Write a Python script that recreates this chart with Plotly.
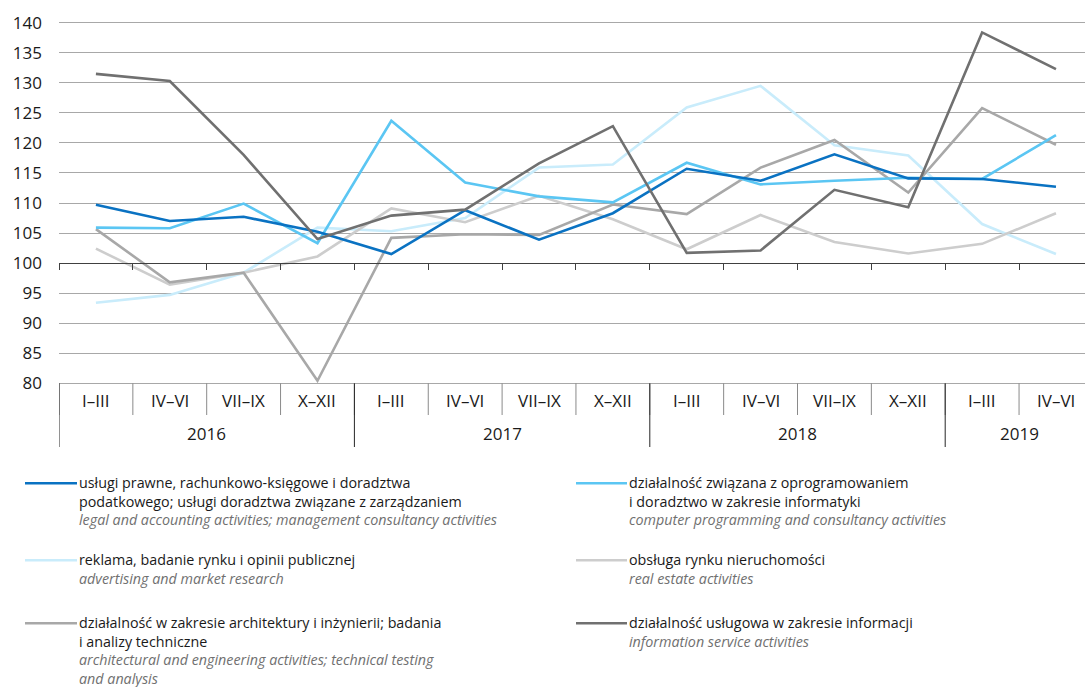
import plotly.graph_objects as go

quarters = ["I–III", "IV–VI", "VII–IX", "X–XII",
            "I–III", "IV–VI", "VII–IX", "X–XII",
            "I–III", "IV–VI", "VII–IX", "X–XII",
            "I–III", "IV–VI"]
years = ["2016", "2017", "2018", "2019"]
year_spans = [4, 4, 4, 2]

legal = [109.7, 107.0, 107.7, 105.2, 101.5, 108.8, 103.9, 108.3, 115.7, 113.7, 118.1, 114.1, 114.0, 112.7]
computer = [105.9, 105.8, 109.9, 103.3, 123.7, 113.4, 111.1, 110.1, 116.7, 113.1, 113.7, 114.2, 114.0, 121.3]
advertising = [93.4, 94.7, 98.4, 105.9, 105.3, 107.5, 115.9, 116.4, 125.9, 129.5, 119.6, 117.9, 106.5, 101.5]
real_estate = [102.4, 96.4, 98.4, 101.1, 109.1, 106.8, 111.2, 107.3, 102.3, 108.0, 103.5, 101.6, 103.2, 108.3]
architecture = [105.65, 96.8, 98.4, 80.4, 104.2, 104.8, 104.7, 109.75, 108.15, 115.9, 120.5, 111.75, 125.8, 119.7]
information = [131.5, 130.3, 118.0, 104.0, 107.9, 108.9, 116.6, 122.8, 101.7, 102.1, 112.2, 109.3, 138.4, 132.3]

series = [
    ("advertising", advertising, "#C9ECFB",
     "reklama, badanie rynku i opinii publicznej",
     "advertising and market research"),
    ("real_estate", real_estate, "#CDCDCD",
     "obsługa rynku nieruchomości",
     "real estate activities"),
    ("architecture", architecture, "#A8A8A8",
     "działalność w zakresie architektury i inżynierii; badania<br>i analizy techniczne",
     "architectural and engineering activities; technical testing<br>and analysis"),
    ("computer", computer, "#5BC6F3",
     "działalność związana z oprogramowaniem<br>i doradztwo w zakresie informatyki",
     "computer programming and consultancy activities"),
    ("legal", legal, "#0A72C2",
     "usługi prawne, rachunkowo-księgowe i doradztwa<br>podatkowego; usługi doradztwa związane z zarządzaniem",
     "legal and accounting activities; management consultancy activities"),
    ("information", information, "#707070",
     "działalność usługowa w zakresie informacji",
     "information service activities"),
]

W, H = 1085, 687
ML, MR, MT, MB = 59, 0, 21, 302
PW = W - ML - MR
PH = H - MT - MB
YMIN, YMAX = 79.7, 140.3
CAT_W = 73.85
XMIN = -0.5
XMAX = XMIN + PW / CAT_W


def px_x(px):
    return (px - ML) / PW


def px_y(py):
    return (H - MB - py) / PH


FONT = "Open Sans"
TXT = "#1a1a1a"
ITAL = "#707070"

xs = list(range(len(quarters)))

fig = go.Figure()
for key, vals, color, pl, en in series:
    fig.add_trace(go.Scatter(x=xs, y=vals, mode="lines", name=key,
                             line=dict(color=color, width=2.6),
                             showlegend=False, hoverinfo="skip"))

shapes = []
annotations = []

# category labels (quarters)
for i, q in enumerate(quarters):
    annotations.append(dict(x=i, y=px_y(400.5), xref="x", yref="paper", text=q,
                            showarrow=False, xanchor="center", yanchor="middle",
                            font=dict(family=FONT, size=17, color=TXT)))
# quarter dividers
for i in range(len(quarters) + 1):
    shapes.append(dict(type="line", xref="x", yref="paper",
                       x0=i - 0.5, x1=i - 0.5, y0=px_y(383.3), y1=px_y(415),
                       line=dict(color="#8a8a8a", width=1)))
# year labels and dividers
start = 0
for yr, span in zip(years, year_spans):
    annotations.append(dict(x=start + (span - 1) / 2, y=px_y(433), xref="x", yref="paper",
                            text=yr, showarrow=False, xanchor="center", yanchor="middle",
                            font=dict(family=FONT, size=17, color=TXT)))
    shapes.append(dict(type="line", xref="x", yref="paper",
                       x0=start - 0.5, x1=start - 0.5, y0=px_y(383.3), y1=px_y(447),
                       line=dict(color="#262626", width=1)))
    start += span

# legend
legend_pos = {
    "legal": (25, 77, 483.3),
    "advertising": (25, 77, 560.3),
    "architecture": (25, 77, 623.3),
    "computer": (576, 627, 483.3),
    "real_estate": (576, 627, 560.3),
    "information": (576, 627, 623.3),
}
for key, vals, color, pl, en in series:
    x0, x1, yy = legend_pos[key]
    shapes.append(dict(type="line", xref="paper", yref="paper",
                       x0=px_x(x0), x1=px_x(x1), y0=px_y(yy), y1=px_y(yy),
                       line=dict(color=color, width=2.6)))
    text = f"{pl}<br><span style='color:{ITAL}'><i>{en}</i></span>"
    annotations.append(dict(x=px_x(x1 + 1), y=px_y(yy - 11.5), xref="paper", yref="paper",
                            text=text, showarrow=False, xanchor="left", yanchor="top",
                            align="left", borderpad=0,
                            font=dict(family=FONT, size=14.3, color=TXT)))

fig.update_layout(
    width=W, height=H,
    margin=dict(l=ML, r=MR, t=MT, b=MB, autoexpand=False),
    paper_bgcolor="white", plot_bgcolor="white",
    xaxis=dict(range=[XMIN, XMAX], anchor="free", automargin=False,
               position=(100 - YMIN) / (YMAX - YMIN),
               showline=True, linecolor="#404040", linewidth=1,
               ticks="outside", ticklen=6, tickcolor="#404040", tickwidth=1,
               tickvals=[i - 0.5 for i in range(len(quarters) + 1)],
               showticklabels=False, showgrid=False, zeroline=False),
    yaxis=dict(range=[YMIN, YMAX], tickvals=list(range(80, 141, 5)),
               automargin=False,
               showgrid=True, gridcolor="#a8a8a8", gridwidth=1,
               zeroline=False, showline=False, ticks="",
               ticklabelstandoff=16,
               tickfont=dict(family=FONT, size=17, color=TXT)),
    shapes=shapes,
    annotations=annotations,
)

fig.write_html("out.html",
               config={"displayModeBar": False},
               post_script="document.body.style.margin='0px';document.body.style.overflow='hidden';")
